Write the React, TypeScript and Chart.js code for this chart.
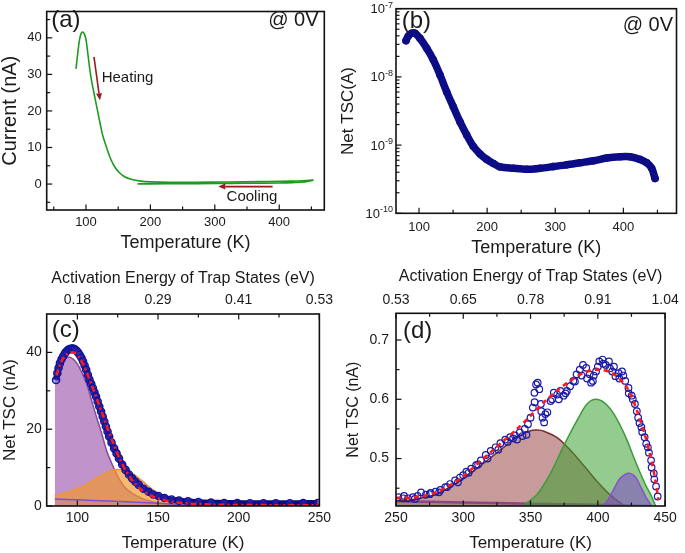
import React, { useEffect, useRef } from 'react';
import { Chart, registerables } from 'chart.js';
Chart.register(...registerables);

const FONT = '"Liberation Sans", Arial, sans-serif';
const NAVY = '#0c0c86';
const TXT = '#1a1a1a';

// ---------- Panel (a) ----------
const aHeatT = [84.5, 87, 90, 92.5, 95, 97.5, 100, 103, 107, 110, 114, 118, 122, 126, 132, 138, 145, 152, 160, 170, 185, 200, 230, 270, 320, 370, 420, 453];
const aHeatI = [31.5, 35.5, 39.5, 41.2, 41.6, 41, 39.5, 35.5, 30, 27, 23.5, 20, 16.5, 13.3, 10, 7, 4.6, 3.1, 2, 1.3, 0.8, 0.6, 0.5, 0.5, 0.55, 0.65, 0.8, 1.06];
const aCoolT = [453, 440, 420, 400, 350, 300, 250, 200, 180];
const aCoolI = [1.06, 0.6, 0.4, 0.3, 0.2, 0.15, 0.1, 0.05, 0.05];
const aXTicks = [100, 200, 300, 400];
const aXLabels = ['100', '200', '300', '400'];
const aXMinor = [50, 150, 250, 350, 450];
const aYTicks = [0, 10, 20, 30, 40];
const aYLabels = ['0', '10', '20', '30', '40'];
const aYMinor = [-5, 5, 15, 25, 35, 45];

// ---------- Panel (b) ----------
const bT = [80.9, 84.3, 89.2, 94.1, 101.5, 111.3, 121, 130.8, 140.6, 150.4, 160.2, 170, 179.8, 189.6, 199.4, 209.2, 219, 238.5, 258.1, 277.7, 297.3, 316.8, 336.4, 356, 375.6, 395.2, 409.8, 424.5, 434.3, 441.6, 446.5];
const bI = [3.4e-8, 3.98e-8, 4.37e-8, 4.37e-8, 3.67e-8, 2.63e-8, 1.78e-8, 1.07e-8, 6.03e-9, 3.63e-9, 2.19e-9, 1.41e-9, 9.55e-10, 7.41e-10, 6.17e-10, 5.37e-10, 4.79e-10, 4.57e-10, 4.42e-10, 4.57e-10, 4.84e-10, 5.13e-10, 5.5e-10, 5.89e-10, 6.46e-10, 6.76e-10, 6.76e-10, 6.17e-10, 5.5e-10, 4.57e-10, 3.24e-10];
const bXTicks = [100, 200, 300, 400];
const bXLabels = ['100', '200', '300', '400'];
const bXMinor = [150, 250, 350, 450];
const bYExps = [-10, -9, -8, -7];
const bYMinorMult = [2, 3, 4, 5, 6, 7, 8, 9];

// ---------- Panel (c) ----------
const cDataT = [86.8, 87.6, 88.4, 89.2, 90.2, 91.2, 92.3, 93.3, 94.3, 95.3, 96.4, 97.4, 98.4, 99.4, 100.4, 101.4, 102.5, 103.5, 104.5, 105.5, 106.5, 107.5, 108.6, 109.6, 110.6, 111.6, 112.6, 113.6, 114.7, 115.7, 116.7, 117.7, 118.7, 119.7, 121.2, 122.8, 124.3, 125.8, 127.8, 129.9, 132, 134, 136, 138.1, 141, 144.2, 147, 150.3, 154, 158.4, 163, 168.6, 175, 182.8, 191, 199.1, 207, 215.4, 223, 231.7, 240, 249];
const cDataI = [32.8, 34.6, 36.0, 37.2, 38.2, 39.0, 39.8, 40.3, 40.7, 40.9, 41.0, 41.0, 40.8, 40.5, 40.0, 39.4, 38.6, 37.7, 36.6, 35.5, 34.2, 32.9, 31.8, 30.7, 29.6, 28.5, 27.2, 25.9, 24.6, 23.3, 22.0, 20.7, 19.4, 18.1, 16.5, 15.0, 13.7, 12.4, 10.8, 9.4, 8.2, 7.2, 6.3, 5.5, 4.5, 3.7, 3.0, 2.6, 2.1, 1.7, 1.4, 1.2, 1.0, 0.87, 0.8, 0.75, 0.72, 0.7, 0.7, 0.72, 0.75, 0.8];
const cFitT = [87, 89, 91, 93, 95, 97, 99, 101, 103, 106, 109, 112, 115, 118, 122, 126, 130, 134, 140, 146, 152, 160, 170, 185, 200, 225, 250];
const cFitI = [34, 36.5, 38.3, 39.4, 39.9, 40, 39.7, 38.8, 37.4, 34.6, 31.4, 28, 24.6, 21.1, 16.6, 12.5, 9.2, 6.7, 4.1, 2.6, 1.7, 1, 0.6, 0.35, 0.25, 0.2, 0.2];
const cPeak1T = [86, 88, 91, 94, 97, 100, 103, 106, 109, 112, 115, 118, 121, 124, 127, 130, 134, 140, 145, 150, 160, 170];
const cPeak1I = [35.5, 37, 38.3, 38.8, 38.4, 37, 34.5, 31.5, 27.2, 23, 19, 14.6, 11.4, 8.6, 6.3, 4.6, 3.3, 2, 1.3, 0.8, 0.3, 0.05];
const cPeak2T = [86, 95, 103, 110, 115, 120, 125, 130, 135, 140, 145, 150, 155, 160, 165, 175, 190, 205];
const cPeak2I = [2.6, 3.8, 5, 6.8, 8, 9.1, 9.5, 9.2, 8.2, 6.6, 4.8, 3.3, 2.1, 1.3, 0.8, 0.3, 0.1, 0];
const cBaseT = [86, 100, 120, 140, 160, 180, 200];
const cBaseI = [1.8, 1.6, 1.3, 0.9, 0.5, 0.2, 0];
const cXTicks = [100, 150, 200, 250];
const cXLabels = ['100', '150', '200', '250'];
const cXMinor = [125, 175, 225];
const cTopLabels = ['0.18', '0.29', '0.41', '0.53'];
const cYTicks = [0, 20, 40];
const cYLabels = ['0', '20', '40'];
const cYMinor = [10, 30];

// ---------- Panel (d) ----------
const dDataT = [251.7, 255.3, 258.9, 262.5, 266.1, 268.6, 272.2, 275.8, 279.4, 283, 286.6, 290.2, 293.9, 297.5, 299.9, 302.3, 305.9, 309.5, 313.1, 316.7, 320.4, 324, 327.6, 331.2, 334.8, 338.4, 342, 345.7, 348.1, 350, 351.7, 352.9, 354.1, 355.3, 356.5, 357.7, 358.9, 360.1, 362.5, 364.9, 367.3, 369.8, 372.2, 374.6, 377, 379.4, 381.8, 384.2, 386.6, 389, 391.4, 393.9, 396.3, 398.7, 401.1, 403.5, 405.9, 408.3, 410.7, 413.1, 415.5, 418, 420.4, 422.8, 425.2, 427.6, 430, 432.4, 434.8, 437.2, 439.6, 441.6, 443.3, 444.5];
const dDataI = [0.435, 0.433, 0.433, 0.435, 0.437, 0.443, 0.439, 0.442, 0.444, 0.447, 0.452, 0.457, 0.463, 0.468, 0.472, 0.478, 0.483, 0.489, 0.497, 0.506, 0.513, 0.519, 0.526, 0.532, 0.536, 0.539, 0.544, 0.55, 0.558, 0.569, 0.586, 0.611, 0.625, 0.628, 0.617, 0.592, 0.569, 0.561, 0.578, 0.597, 0.611, 0.608, 0.614, 0.606, 0.614, 0.622, 0.631, 0.642, 0.65, 0.658, 0.653, 0.642, 0.631, 0.647, 0.664, 0.667, 0.658, 0.664, 0.647, 0.639, 0.644, 0.647, 0.631, 0.619, 0.606, 0.592, 0.569, 0.553, 0.536, 0.519, 0.497, 0.475, 0.453, 0.436];
const dData2T = [256, 264, 275, 282, 288, 296, 304, 311, 318, 326, 333, 337, 340, 344, 347, 353, 358, 361, 366, 371, 376, 383, 388, 392, 395, 397, 400, 404, 409, 412, 416, 419, 423, 426, 429, 431, 433, 436, 438, 440, 442];
const dData2I = [0.437, 0.432, 0.44, 0.443, 0.452, 0.46, 0.476, 0.49, 0.5, 0.515, 0.528, 0.534, 0.532, 0.538, 0.54, 0.595, 0.58, 0.575, 0.6, 0.6, 0.61, 0.63, 0.64, 0.635, 0.628, 0.64, 0.655, 0.66, 0.652, 0.655, 0.635, 0.64, 0.61, 0.6, 0.58, 0.56, 0.545, 0.525, 0.51, 0.485, 0.465];
const dFitT = [250, 260, 270, 280, 290, 300, 310, 320, 330, 340, 350, 360, 370, 380, 390, 400, 410, 420, 425, 430, 435, 440, 443, 445];
const dFitI = [0.434, 0.434, 0.437, 0.443, 0.455, 0.47, 0.49, 0.51, 0.53, 0.55, 0.572, 0.595, 0.615, 0.632, 0.645, 0.65, 0.645, 0.625, 0.605, 0.575, 0.54, 0.495, 0.46, 0.43];
const dBrownT = [250, 260, 270, 280, 290, 300, 310, 320, 330, 340, 350, 355, 360, 370, 380, 390, 400, 410, 420];
const dBrownI = [0.428, 0.43, 0.434, 0.44, 0.452, 0.466, 0.483, 0.501, 0.519, 0.536, 0.547, 0.548, 0.546, 0.535, 0.513, 0.487, 0.46, 0.437, 0.42];
const dGreenT = [345, 355, 365, 375, 385, 392, 398, 405, 412, 420, 428, 435, 440, 443];
const dGreenI = [0.421, 0.44, 0.476, 0.523, 0.566, 0.592, 0.6, 0.594, 0.575, 0.54, 0.495, 0.458, 0.436, 0.42];
const dVioletT = [404, 408, 412, 416, 420, 424, 428, 432, 436, 440];
const dVioletI = [0.421, 0.432, 0.449, 0.465, 0.473, 0.475, 0.469, 0.452, 0.434, 0.42];
const dBaseT = [250, 300, 350, 400, 440];
const dBaseI = [0.428, 0.426, 0.424, 0.422, 0.42];
const dXTicks = [250, 300, 350, 400, 450];
const dXLabels = ['250', '300', '350', '400', '450'];
const dXMinor = [275, 325, 375, 425];
const dTopLabels = ['0.53', '0.65', '0.78', '0.91', '1.04'];
const dYTicks = [0.5, 0.6, 0.7];
const dYLabels = ['0.5', '0.6', '0.7'];
const dYMinor = [0.45, 0.55, 0.65];

// ---------- helpers ----------
const pts = (xs: number[], ys: number[]) => xs.map((x, i) => ({ x, y: ys[i] }));

function axis(o: any) {
  return {
    type: o.type || 'linear',
    position: o.position,
    min: o.min,
    max: o.max,
    grid: { display: false, drawTicks: false, tickLength: 0 },
    border: { display: false },
    afterBuildTicks: (s: any) => {
      s.ticks = o.ticks.map((v: number) => ({ value: v, major: true }));
    },
    afterFit: (s: any) => {
      if (o.position === 'left') s.width = o.size;
      else s.height = o.size;
    },
    ticks: {
      display: o.showLabels !== false,
      autoSkip: false,
      maxRotation: 0,
      minRotation: 0,
      padding: o.tickPad,
      color: TXT,
      font: { family: FONT, size: o.tickSize || 13, lineHeight: 1 },
      callback: (_v: any, i: number) => (o.labels ? o.labels[i] : ''),
    },
    title: o.title
      ? {
          display: true,
          text: o.title,
          color: TXT,
          font: { family: FONT, size: o.titleSize, lineHeight: 1 },
          padding: { top: o.titlePad, bottom: o.titlePad },
        }
      : { display: false },
  };
}

function frameAndTicks(chart: any, specs: any[]) {
  const { ctx, chartArea } = chart;
  const { left, top, right, bottom } = chartArea;
  ctx.save();
  ctx.strokeStyle = '#111';
  ctx.lineWidth = 1.6;
  ctx.strokeRect(left, top, right - left, bottom - top);
  ctx.lineWidth = 1.2;
  for (const sp of specs) {
    const s = chart.scales[sp.axis];
    const draw = (v: number, len: number) => {
      const p = s.getPixelForValue(v);
      ctx.beginPath();
      if (sp.edge === 'bottom') { ctx.moveTo(p, bottom); ctx.lineTo(p, bottom - len); }
      else if (sp.edge === 'top') { ctx.moveTo(p, top); ctx.lineTo(p, top + len); }
      else { ctx.moveTo(left, p); ctx.lineTo(left + len, p); }
      ctx.stroke();
    };
    sp.major.forEach((v: number) => draw(v, 5.5));
    sp.minor.forEach((v: number) => draw(v, 3.5));
  }
  ctx.restore();
}

function text(ctx: any, s: string, x: number, y: number, size: number, align: any = 'left') {
  ctx.save();
  ctx.fillStyle = TXT;
  ctx.font = `${size}px ${FONT}`;
  ctx.textAlign = align;
  ctx.textBaseline = 'middle';
  ctx.fillText(s, x, y);
  ctx.restore();
}

function arrow(ctx: any, x1: number, y1: number, x2: number, y2: number, color: string) {
  ctx.save();
  ctx.strokeStyle = color;
  ctx.fillStyle = color;
  ctx.lineWidth = 1.6;
  const ang = Math.atan2(y2 - y1, x2 - x1);
  const hl = 7, hw = 3;
  const bx = x2 - hl * Math.cos(ang), by = y2 - hl * Math.sin(ang);
  ctx.beginPath(); ctx.moveTo(x1, y1); ctx.lineTo(bx, by); ctx.stroke();
  ctx.beginPath();
  ctx.moveTo(x2, y2);
  ctx.lineTo(bx + hw * Math.sin(ang), by - hw * Math.cos(ang));
  ctx.lineTo(bx - hw * Math.sin(ang), by + hw * Math.cos(ang));
  ctx.closePath(); ctx.fill();
  ctx.restore();
}

const baseOpts = (padding: any) => ({
  responsive: false,
  maintainAspectRatio: false,
  animation: false,
  layout: { padding },
  plugins: { legend: { display: false }, tooltip: { enabled: false } },
});

const energyTop = (min: number, max: number, ticks: number[], labels: string[], size: number, tickPad: number, titlePad: number) =>
  axis({ position: 'top', min, max, ticks, labels, size, tickPad, tickSize: 14, title: 'Activation Energy of Trap States (eV)', titleSize: 16, titlePad });

// ---------- configs ----------
const cfgA = () => ({
  type: 'scatter',
  data: {
    datasets: [
      { data: pts(aHeatT, aHeatI), showLine: true, borderColor: '#1f9a1f', borderWidth: 1.6, pointRadius: 0, tension: 0.35 },
      { data: pts(aCoolT, aCoolI), showLine: true, borderColor: '#1f9a1f', borderWidth: 1.6, pointRadius: 0, tension: 0.35 },
    ],
  },
  options: {
    ...baseOpts({ left: 0, top: 4.7, right: 15.7, bottom: 0 }),
    scales: {
      x: axis({ position: 'bottom', min: 39, max: 470, ticks: aXTicks, labels: aXLabels, size: 50, tickPad: 5.5, tickSize: 13, title: 'Temperature (K)', titleSize: 18, titlePad: 8 }),
      y: axis({ position: 'left', min: -7.1, max: 47.2, ticks: aYTicks, labels: aYLabels, size: 46.7, tickPad: 5, tickSize: 13, title: 'Current (nA)', titleSize: 20, titlePad: 0 }),
    },
  },
  plugins: [{
    id: 'decoA',
    afterDatasetsDraw(chart: any) {
      frameAndTicks(chart, [
        { axis: 'x', edge: 'bottom', major: aXTicks, minor: aXMinor },
        { axis: 'y', edge: 'left', major: aYTicks, minor: aYMinor },
      ]);
      const { ctx, scales: { x, y }, chartArea } = chart;
      text(ctx, '(a)', chartArea.left + 4.5, 20, 24);
      text(ctx, '@ 0V', 318.5, 20, 20, 'right');
      arrow(ctx, x.getPixelForValue(112.4), y.getPixelForValue(34.8), x.getPixelForValue(121.7), y.getPixelForValue(22.9), '#9a1a1a');
      arrow(ctx, x.getPixelForValue(389.8), y.getPixelForValue(-0.7), x.getPixelForValue(305.4), y.getPixelForValue(-0.7), '#9a1a1a');
      text(ctx, 'Heating', 101.7, 77.7, 15);
      text(ctx, 'Cooling', 252, 196.7, 15, 'center');
    },
  }],
});

const bYMajorVals = bYExps.map((e) => Math.pow(10, e));
const bYMinorVals = bYExps.slice(0, -1).flatMap((e) => bYMinorMult.map((m) => m * Math.pow(10, e)));

const cfgB = () => ({
  type: 'scatter',
  data: {
    datasets: [
      { data: pts(bT, bI), showLine: true, borderColor: NAVY, borderWidth: 7.5, pointRadius: 3.8, pointBackgroundColor: NAVY, pointBorderWidth: 0, tension: 0.3, borderCapStyle: 'round' },
    ],
  },
  options: {
    ...baseOpts({ left: 0, top: 8.7, right: 8.5, bottom: 0 }),
    scales: {
      x: axis({ position: 'bottom', min: 66.2, max: 478, ticks: bXTicks, labels: bXLabels, size: 46.7, tickPad: 7.2, tickSize: 13, title: 'Temperature (K)', titleSize: 18, titlePad: 3 }),
      y: axis({ type: 'logarithmic', position: 'left', min: 1e-10, max: 1e-7, ticks: bYMajorVals, showLabels: false, size: 56, tickPad: 3, title: 'Net TSC(A)', titleSize: 17, titlePad: -0.5 }),
    },
  },
  plugins: [{
    id: 'decoB',
    afterDatasetsDraw(chart: any) {
      frameAndTicks(chart, [
        { axis: 'x', edge: 'bottom', major: bXTicks, minor: bXMinor },
        { axis: 'y', edge: 'left', major: bYMajorVals, minor: bYMinorVals },
      ]);
      const { ctx, scales: { y }, chartArea } = chart;
      ctx.save();
      ctx.fillStyle = TXT;
      ctx.textAlign = 'right';
      ctx.textBaseline = 'middle';
      const rx = chartArea.left - 3;
      for (const e of bYExps) {
        const py = y.getPixelForValue(Math.pow(10, e));
        const sup = String(e);
        ctx.font = `9px ${FONT}`;
        const w = ctx.measureText(sup).width;
        ctx.fillText(sup, rx, py - 3.5);
        ctx.font = `13px ${FONT}`;
        ctx.fillText('10', rx - w, py + 1);
      }
      ctx.restore();
      text(ctx, '(b)', chartArea.left + 5.7, 21.7, 24);
      text(ctx, '@ 0V', 333, 25, 20, 'right');
    },
  }],
});

const cfgC = () => ({
  type: 'scatter',
  data: {
    datasets: [
      { data: pts(cFitT, cFitI), showLine: true, borderColor: '#ff1a1a', borderWidth: 2.6, borderDash: [6, 3, 2, 3], pointRadius: 0, tension: 0.3 },
      { data: pts(cDataT, cDataI), showLine: true, borderColor: NAVY, borderWidth: 6, pointRadius: 3.6, pointBorderWidth: 1.4, pointBorderColor: '#10109a', pointBackgroundColor: 'rgba(70,70,200,0.35)', tension: 0.3 },
      { data: pts(cBaseT, cBaseI), showLine: true, borderColor: '#7b52c9', borderWidth: 1.5, pointRadius: 0, fill: 'origin', backgroundColor: 'rgba(150,110,210,0.25)', tension: 0.3 },
      { data: pts(cPeak2T, cPeak2I), showLine: true, borderColor: '#f0962e', borderWidth: 1.5, pointRadius: 0, fill: 'origin', backgroundColor: 'rgba(245,150,45,0.68)', tension: 0.35 },
      { data: pts(cPeak1T, cPeak1I), showLine: true, borderColor: '#8a4a9a', borderWidth: 1.5, pointRadius: 0, fill: 'origin', backgroundColor: 'rgba(140,60,160,0.55)', tension: 0.35 },
    ],
  },
  options: {
    ...baseOpts({ left: 0, top: 0, right: 16.7, bottom: 0 }),
    scales: {
      x: axis({ position: 'bottom', min: 81, max: 250, ticks: cXTicks, labels: cXLabels, size: 47, tickPad: 5.3, tickSize: 14, title: 'Temperature (K)', titleSize: 17, titlePad: 1.5 }),
      x2: energyTop(81, 250, cXTicks, cTopLabels, 54, 7, 10.3),
      y: axis({ position: 'left', min: 0, max: 50, ticks: cYTicks, labels: cYLabels, size: 46.7, tickPad: 5, tickSize: 14, title: 'Net TSC (nA)', titleSize: 17, titlePad: 1.5 }),
    },
  },
  plugins: [{
    id: 'decoC',
    afterDatasetsDraw(chart: any) {
      frameAndTicks(chart, [
        { axis: 'x', edge: 'bottom', major: cXTicks, minor: cXMinor },
        { axis: 'x2', edge: 'top', major: cXTicks, minor: cXMinor },
        { axis: 'y', edge: 'left', major: cYTicks, minor: cYMinor },
      ]);
      const { ctx, chartArea } = chart;
      text(ctx, '(c)', chartArea.left + 5, 70, 24);
    },
  }],
});

const cfgD = () => ({
  type: 'scatter',
  data: {
    datasets: [
      { data: pts(dFitT, dFitI), showLine: true, borderColor: '#ff1a1a', borderWidth: 2.6, borderDash: [5, 4], pointRadius: 0, tension: 0.3 },
      { data: pts(dDataT, dDataI), showLine: false, pointRadius: 3.3, pointBorderWidth: 1.2, pointBorderColor: '#1a1aa6', pointBackgroundColor: 'rgba(255,255,255,0)' },
      { data: pts(dData2T, dData2I), showLine: false, pointRadius: 3.3, pointBorderWidth: 1.2, pointBorderColor: '#1a1aa6', pointBackgroundColor: 'rgba(255,255,255,0)' },
      { data: pts(dVioletT, dVioletI), showLine: true, borderColor: '#8a50d0', borderWidth: 1.5, pointRadius: 0, fill: 'start', backgroundColor: 'rgba(130,70,200,0.55)', tension: 0.35 },
      { data: pts(dGreenT, dGreenI), showLine: true, borderColor: '#3c9c3c', borderWidth: 1.5, pointRadius: 0, fill: 'start', backgroundColor: 'rgba(60,160,50,0.55)', tension: 0.35 },
      { data: pts(dBrownT, dBrownI), showLine: true, borderColor: '#7a2e2e', borderWidth: 1.5, pointRadius: 0, fill: 'start', backgroundColor: 'rgba(145,55,55,0.5)', tension: 0.35 },
      { data: pts(dBaseT, dBaseI), showLine: true, borderColor: '#8a50d0', borderWidth: 2.5, pointRadius: 0, fill: 'start', backgroundColor: 'rgba(60,160,80,0.4)', tension: 0.3 },
    ],
  },
  options: {
    ...baseOpts({ left: 0, top: 0, right: 12, bottom: 0 }),
    scales: {
      x: axis({ position: 'bottom', min: 250, max: 450, ticks: dXTicks, labels: dXLabels, size: 47, tickPad: 5, tickSize: 14, title: 'Temperature (K)', titleSize: 17, titlePad: 1.5 }),
      x2: energyTop(250, 450, dXTicks, dTopLabels, 53.3, 6.3, 8.7),
      y: axis({ position: 'left', min: 0.42, max: 0.745, ticks: dYTicks, labels: dYLabels, size: 56, tickPad: 7, tickSize: 14, title: 'Net TSC (nA)', titleSize: 16, titlePad: 6 }),
    },
  },
  plugins: [{
    id: 'decoD',
    afterDatasetsDraw(chart: any) {
      frameAndTicks(chart, [
        { axis: 'x', edge: 'bottom', major: dXTicks, minor: dXMinor },
        { axis: 'x2', edge: 'top', major: dXTicks, minor: dXMinor },
        { axis: 'y', edge: 'left', major: dYTicks, minor: dYMinor },
      ]);
      const { ctx, chartArea } = chart;
      text(ctx, '(d)', chartArea.left + 7, 71.7, 24);
    },
  }],
});

function Panel({ left, top, width, height, make }: any) {
  const ref = useRef<HTMLCanvasElement>(null);
  useEffect(() => {
    const chart = new Chart(ref.current as any, make() as any);
    return () => chart.destroy();
  }, []);
  return <canvas ref={ref} width={width} height={height} style={{ position: 'absolute', left, top, width, height }} />;
}

export default function App() {
  return (
    <div style={{ position: 'fixed', left: 0, top: 0, width: 685, height: 553, background: '#fff' }}>
      <Panel left={0} top={0} width={340} height={260} make={cfgA} />
      <Panel left={340} top={0} width={345} height={260} make={cfgB} />
      <Panel left={0} top={260} width={340} height={293} make={cfgC} />
      <Panel left={340} top={260} width={345} height={293} make={cfgD} />
    </div>
  );
}
